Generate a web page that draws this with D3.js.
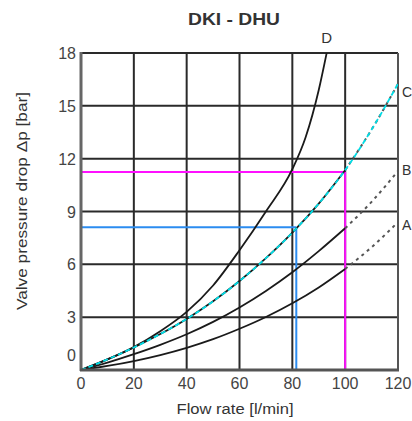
<!DOCTYPE html>
<html><head><meta charset="utf-8">
<script src="https://cdn.jsdelivr.net/npm/d3@7"></script>
<style>html,body{margin:0;padding:0;background:#fff;}svg{display:block;}</style>
</head><body>
<script>
// ---- data ----
const flow   = [0,10,20,30,40,50,60,70,80,90,100,110,120];
const seriesA = [0,0.23,0.51,0.85,1.26,1.75,2.34,3.01,3.79,4.69,5.74,6.97,8.4];
const seriesB = [0,0.42,0.9,1.43,2.03,2.73,3.55,4.49,5.55,6.75,8.05,9.55,11.3];
const seriesC = [0,0.6,1.28,2.04,2.9,3.9,5.05,6.35,7.8,9.45,11.35,13.65,16.25];
const flowD   = [0,10,20,30,40,50,60,70,80,85,90,93];
const seriesD = [0,0.6,1.3,2.2,3.3,4.8,6.8,9.0,11.4,13.2,15.9,18];
const xTicks = [0,20,40,60,80,100,120];
const yTicks = [0,3,6,9,12,15,18];
const blueRef = [81.5, 8.1];      // [flow, dp]
const magentaRef = [100, 11.25];  // [flow, dp]
const solidLimit = 100;
const title = "DKI - DHU";
const xTitle = "Flow rate [l/min]";
const yTitle = "Valve pressure drop \u0394p [bar]";

// ---- chart ----
const W = 412, H = 421;
const svg = d3.select("body").append("svg").attr("width", W).attr("height", H);
const x = d3.scaleLinear().domain([0,120]).range([81,398]);
const y = d3.scaleLinear().domain([0,18]).range([370,53]);

svg.append("defs").append("clipPath").attr("id","plot")
  .append("rect").attr("x",81).attr("y",53).attr("width",317).attr("height",317);

// grid
const grid = svg.append("g");
grid.selectAll("line.v").data(xTicks.filter(d=>d>0 && d<120)).join("line")
  .attr("x1",d=>x(d)).attr("x2",d=>x(d)).attr("y1",y(0)).attr("y2",y(18))
  .attr("stroke","#2a2a2a").attr("stroke-width",2);
grid.selectAll("line.h").data(yTicks.filter(d=>d>0 && d<18)).join("line")
  .attr("x1",x(0)).attr("x2",x(120)).attr("y1",d=>y(d)).attr("y2",d=>y(d))
  .attr("stroke","#2a2a2a").attr("stroke-width",2);
// frame
svg.append("line").attr("x1",x(0)).attr("x2",x(120)).attr("y1",y(18)).attr("y2",y(18)).attr("stroke","#2a2a2a").attr("stroke-width",2);
svg.append("line").attr("x1",x(120)).attr("x2",x(120)).attr("y1",y(0)).attr("y2",y(18)).attr("stroke","#555").attr("stroke-width",2);

// reference lines
function refLines(ref, color){
  svg.append("line").attr("x1",x(0)).attr("x2",x(ref[0])).attr("y1",y(ref[1])).attr("y2",y(ref[1]))
    .attr("stroke",color).attr("stroke-width",2);
  svg.append("line").attr("x1",x(ref[0])).attr("x2",x(ref[0])).attr("y1",y(0)).attr("y2",y(ref[1]))
    .attr("stroke",color).attr("stroke-width",2);
}
refLines(blueRef, "#2b8cf0");
refLines(magentaRef, "#ff10ff");

// curves
const line = d3.line().x(d=>x(d[0])).y(d=>y(d[1])).curve(d3.curveMonotoneX);
const plot = svg.append("g").attr("clip-path","url(#plot)");
function drawSeries(xs, ys, dashedColor){
  const pts = xs.map((q,i)=>[q, ys[i]]);
  const solid = pts.filter(p=>p[0]<=solidLimit);
  const dashed = pts.filter(p=>p[0]>=solidLimit);
  plot.append("path").attr("d",line(solid)).attr("fill","none").attr("stroke","#1a1a1a").attr("stroke-width",1.8);
  if (dashed.length>1) {
    plot.append("path").attr("d",line(dashed)).attr("fill","none").attr("stroke",dashedColor)
      .attr("stroke-width",2).attr("stroke-dasharray","3,4");
  }
  return pts;
}
drawSeries(flow, seriesA, "#555");
drawSeries(flow, seriesB, "#555");
const cPts = drawSeries(flow, seriesC, "#555");
drawSeries(flowD, seriesD, "#555");
plot.append("path").attr("d",line(cPts)).attr("fill","none").attr("stroke","#00dde6")
  .attr("stroke-width",1.8).attr("stroke-dasharray","5,3");

// axes lines (left & bottom)
svg.append("line").attr("x1",x(0)).attr("x2",x(0)).attr("y1",y(0)+1).attr("y2",y(18)-1).attr("stroke","#666").attr("stroke-width",3);
svg.append("line").attr("x1",x(0)-1).attr("x2",x(120)+1).attr("y1",y(0)).attr("y2",y(0)).attr("stroke","#555").attr("stroke-width",3);

// tick labels
const font = "'Liberation Sans', Arial, sans-serif";
svg.selectAll("text.yt").data(yTicks).join("text")
  .attr("x",76).attr("y",d=> d===0 ? y(d)-9 : y(d)+6)
  .attr("text-anchor","end").attr("font-family",font).attr("font-size",16).attr("fill","#444")
  .text(d=>d);
svg.selectAll("text.xt").data(xTicks).join("text")
  .attr("x",d=>x(d)).attr("y",389)
  .attr("text-anchor","middle").attr("font-family",font).attr("font-size",16).attr("fill","#444")
  .text(d=>d);

// titles
svg.append("text").attr("x",234).attr("y",25).attr("text-anchor","middle")
  .attr("font-family",font).attr("font-size",16).attr("font-weight","bold").attr("fill","#333")
  .attr("textLength",92).attr("lengthAdjust","spacingAndGlyphs").text(title);
svg.append("text").attr("x",235).attr("y",414).attr("text-anchor","middle")
  .attr("font-family",font).attr("font-size",14).attr("fill","#333")
  .attr("textLength",117).attr("lengthAdjust","spacingAndGlyphs").text(xTitle);
svg.append("text").attr("transform","translate(27,201) rotate(-90)").attr("text-anchor","middle")
  .attr("font-family",font).attr("font-size",14).attr("fill","#333")
  .attr("textLength",218).attr("lengthAdjust","spacingAndGlyphs").text(yTitle);

// curve labels
const endLabels = [["A", seriesA, 8], ["B", seriesB, 4], ["C", seriesC, 13]];
endLabels.forEach(([t, s, dy]) => {
  svg.append("text").attr("x",x(120)+4).attr("y",y(s[s.length-1])+dy)
    .attr("font-family",font).attr("font-size",14).attr("fill","#333").text(t);
});
svg.append("text").attr("x",x(flowD[flowD.length-1])).attr("y",y(18)-10).attr("text-anchor","middle")
  .attr("font-family",font).attr("font-size",15).attr("fill","#333").text("D");
</script>
</body></html>
